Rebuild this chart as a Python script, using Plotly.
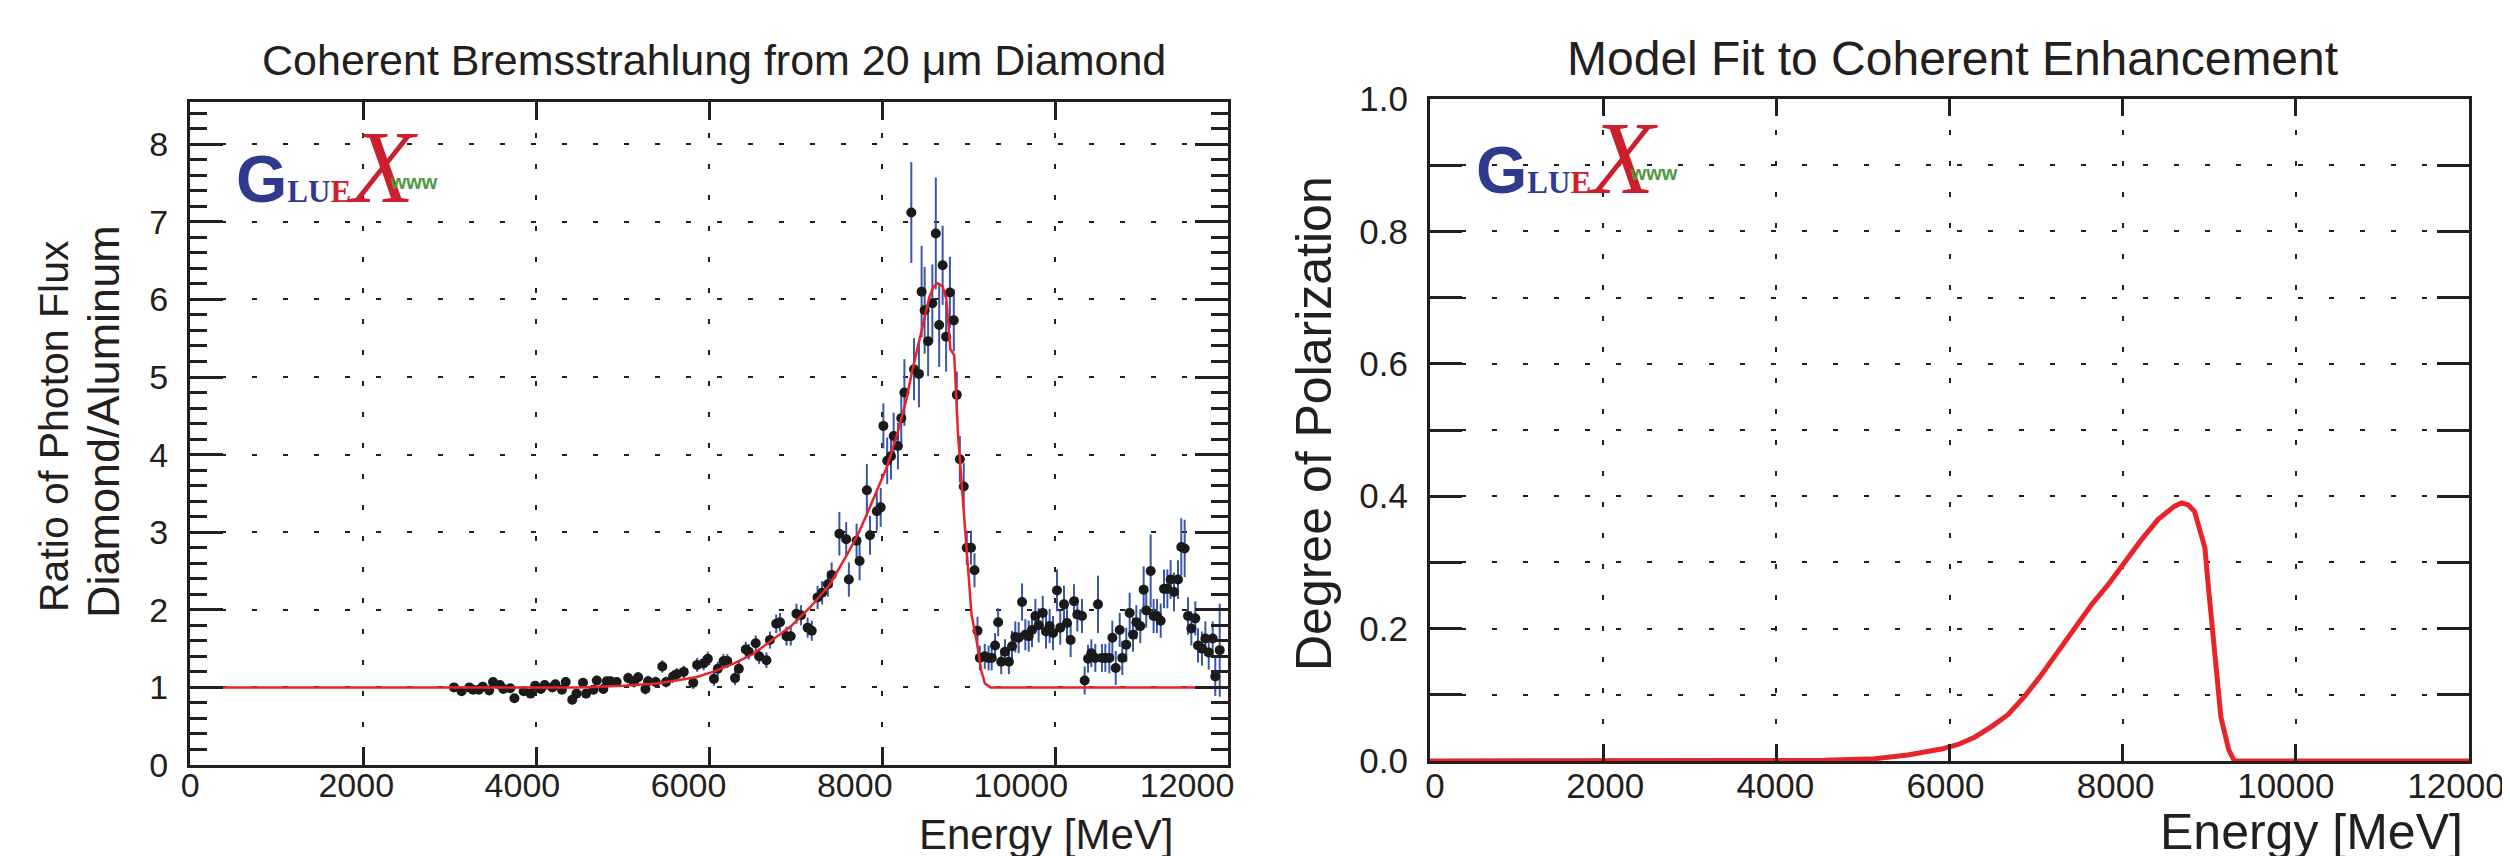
import plotly.graph_objects as go

W, H = 2510, 856

# ---------------- data ----------------
energy = [3052, 3140, 3229, 3273, 3339, 3384, 3459, 3503, 3583, 3623, 3703, 3751, 3857, 3937, 3990,
          4056, 4101, 4189, 4224, 4300, 4344, 4419, 4468, 4543, 4579, 4663, 4703, 4778, 4818, 4862,
          4933, 5066, 5132, 5181, 5265, 5296, 5384, 5460, 5504, 5584, 5628, 5708, 5818, 5863, 5938,
          5987, 6057, 6102, 6168, 6212, 6301, 6345, 6425, 6460, 6540, 6580, 6664, 6704, 6777, 6821,
          6896, 6945, 7011, 7064, 7140, 7188, 7255, 7308, 7374, 7418, 7507, 7586, 7617, 7706, 7741,
          7825, 7861, 7940, 7985, 8016, 8060, 8104, 8135, 8184, 8223, 8259, 8339, 8370, 8427, 8458,
          8493, 8533, 8582, 8622, 8661, 8701, 8741, 8785, 8830, 8865, 8900, 8945, 8980, 9029, 9069,
          9104, 9131, 9188, 9232, 9268, 9307, 9343, 9378, 9422, 9467, 9503, 9541, 9580, 9619, 9657,
          9696, 9734, 9773, 9811, 9858, 9896, 9938, 9977, 10023, 10061, 10104, 10139, 10181, 10220, 10258,
          10312, 10343, 10382, 10420, 10466, 10497, 10543, 10582, 10628, 10663, 10702, 10748, 10778, 10824, 10863,
          10902, 10940, 10986, 11025, 11055, 11106, 11140, 11179, 11222, 11260, 11299, 11337, 11376, 11422, 11460,
          11499, 11538, 11576, 11622, 11653, 11699, 11738, 11777, 11823, 11853, 11904]
ratio = [1.00, 0.95, 1.00, 0.97, 0.97, 1.01, 0.96, 1.07, 1.03, 0.98, 0.99, 0.86, 0.95, 0.92, 1.02,
         0.98, 1.03, 1.00, 1.04, 0.97, 1.07, 0.84, 0.92, 1.06, 0.92, 0.97, 1.09, 0.98, 1.08, 1.08,
         1.07, 1.12, 1.07, 1.13, 0.98, 1.08, 1.07, 1.27, 1.07, 1.14, 1.17, 1.20, 1.06, 1.29, 1.31,
         1.37, 1.11, 1.24, 1.34, 1.34, 1.12, 1.24, 1.49, 1.46, 1.57, 1.40, 1.35, 1.61, 1.82, 1.84,
         1.66, 1.66, 1.95, 1.93, 1.77, 1.73, 2.16, 2.22, 2.33, 2.45, 2.98, 2.91, 2.39, 2.89, 2.63,
         3.54, 2.96, 3.27, 3.32, 4.37, 3.92, 3.98, 4.24, 4.11, 4.47, 4.80, 7.12, 5.10, 5.04, 6.10,
         5.86, 5.46, 5.95, 6.85, 5.67, 6.44, 5.52, 6.09, 5.73, 4.77, 3.94, 3.59, 2.80, 2.80, 2.51,
         1.73, 1.38, 1.40, 1.38, 1.38, 1.54, 1.84, 1.33, 1.46, 1.33, 1.53, 1.65, 1.64, 2.10, 1.68,
         1.66, 1.74, 1.92, 1.80, 1.96, 1.72, 1.79, 1.70, 2.25, 1.77, 2.07, 1.83, 1.61, 2.11, 1.94,
         1.92, 1.09, 1.37, 1.44, 1.38, 2.07, 1.38, 1.38, 1.38, 1.64, 1.25, 1.74, 1.38, 1.55, 1.96,
         1.68, 1.84, 1.79, 2.26, 1.99, 2.50, 1.92, 1.92, 1.86, 2.27, 2.27, 2.39, 2.23, 2.39, 2.81,
         2.79, 1.92, 1.76, 1.89, 1.54, 1.50, 1.63, 1.45, 1.63, 1.14, 1.48]
ratio_err = [0.05, 0.05, 0.05, 0.05, 0.05, 0.05, 0.05, 0.05, 0.05, 0.05, 0.05, 0.05, 0.05, 0.05, 0.05,
             0.05, 0.05, 0.05, 0.05, 0.05, 0.06, 0.06, 0.06, 0.06, 0.06, 0.06, 0.06, 0.06, 0.06, 0.06,
             0.06, 0.07, 0.07, 0.07, 0.07, 0.07, 0.07, 0.08, 0.07, 0.08, 0.08, 0.08, 0.08, 0.09, 0.09,
             0.09, 0.09, 0.09, 0.09, 0.09, 0.09, 0.10, 0.10, 0.10, 0.10, 0.10, 0.10, 0.11, 0.12, 0.12,
             0.12, 0.12, 0.13, 0.13, 0.13, 0.13, 0.15, 0.15, 0.16, 0.16, 0.28, 0.22, 0.22, 0.22, 0.25,
             0.34, 0.25, 0.25, 0.25, 0.29, 0.30, 0.30, 0.30, 0.30, 0.32, 0.43, 0.65, 0.40, 0.43, 0.59,
             0.56, 0.45, 0.50, 0.72, 0.54, 0.51, 0.45, 0.46, 0.40, 0.30, 0.30, 0.30, 0.22, 0.22, 0.22,
             0.18, 0.16, 0.16, 0.16, 0.16, 0.16, 0.18, 0.16, 0.16, 0.16, 0.20, 0.20, 0.20, 0.24, 0.20,
             0.20, 0.22, 0.22, 0.22, 0.22, 0.22, 0.22, 0.22, 0.27, 0.22, 0.24, 0.22, 0.22, 0.22, 0.22,
             0.22, 0.18, 0.18, 0.18, 0.18, 0.37, 0.18, 0.18, 0.20, 0.22, 0.22, 0.22, 0.22, 0.22, 0.26,
             0.22, 0.22, 0.22, 0.30, 0.22, 0.47, 0.22, 0.22, 0.22, 0.25, 0.25, 0.25, 0.25, 0.25, 0.37,
             0.37, 0.24, 0.22, 0.22, 0.22, 0.22, 0.22, 0.22, 0.22, 0.25, 0.60]

fit_energy = [0, 4500, 5000, 5400, 5850, 6070, 6290, 6510, 6730, 6950, 7175, 7400, 7620, 7730,
              7840, 7950, 8060, 8170, 8280, 8350, 8410, 8480, 8545, 8590, 8635, 8700, 8745, 8790,
              8835, 8880, 8925, 8965, 9000, 9035, 9100, 9145, 9190, 9255, 12000]
fit_ratio = [1.00, 1.00, 1.02, 1.05, 1.13, 1.21, 1.31, 1.43, 1.61, 1.79, 2.04, 2.33, 2.76, 2.99,
             3.27, 3.55, 3.85, 4.24, 4.70, 5.08, 5.36, 5.69, 6.02, 6.15, 6.21, 6.17, 6.00, 5.36,
             5.28, 4.24, 3.57, 2.94, 2.40, 1.94, 1.56, 1.23, 1.05, 1.00, 1.00]

pol_energy = [0, 3200, 4560, 5140, 5520, 5905, 6100, 6290, 6485, 6675, 6870, 7060, 7255, 7445,
              7640, 7830, 8025, 8215, 8410, 8600, 8680, 8755, 8830, 8890, 8950, 8990, 9070, 9135,
              9225, 9290, 12000]
pol_value = [0.0, 0.0, 0.001, 0.0035, 0.009, 0.018, 0.025, 0.036, 0.052, 0.070, 0.098, 0.130, 0.165,
             0.198, 0.236, 0.266, 0.302, 0.334, 0.365, 0.385, 0.390, 0.387, 0.377, 0.352, 0.322,
             0.263, 0.156, 0.066, 0.017, 0.0, 0.0]

x_ticks = [0, 2000, 4000, 6000, 8000, 10000, 12000]
x_tick_text = ["0", "2000", "4000", "6000", "8000", "10000", "12000"]
y1_ticks = [0, 1, 2, 3, 4, 5, 6, 7, 8]
y1_tick_text = ["0", "1", "2", "3", "4", "5", "6", "7", "8"]
y2_ticks = [0.0, 0.2, 0.4, 0.6, 0.8, 1.0]
y2_tick_text = ["0.0", "0.2", "0.4", "0.6", "0.8", "1.0"]

# ---------------- styling ----------------
INK = "#231f20"
RED = "#e8242b"
BLUE_ERR = "#3a57a6"
FONT = "Liberation Sans"
DASH = "5px,26px"


def px(x):
    return x / W


def py(y):
    return 1 - y / H


fig = go.Figure()

fig.add_trace(go.Scatter(
    x=energy, y=ratio, mode="markers",
    marker=dict(size=10, color="#1a1a1a"),
    error_y=dict(type="data", array=ratio_err, color=BLUE_ERR, thickness=2, width=0),
    xaxis="x", yaxis="y", hoverinfo="skip"))
fig.add_trace(go.Scatter(
    x=fit_energy, y=fit_ratio, mode="lines",
    line=dict(color=RED, width=2.5), xaxis="x", yaxis="y", hoverinfo="skip"))
fig.add_trace(go.Scatter(
    x=pol_energy, y=pol_value, mode="lines",
    line=dict(color=RED, width=5), xaxis="x2", yaxis="y2", hoverinfo="skip"))
# empty traces that only carry the tick-label axes
fig.add_trace(go.Scatter(x=[0], y=[None], mode="markers", xaxis="x3", yaxis="y",
                         hoverinfo="skip", showlegend=False))
fig.add_trace(go.Scatter(x=[0], y=[None], mode="markers", xaxis="x4", yaxis="y2",
                         hoverinfo="skip", showlegend=False))

common_axis = dict(showline=True, linewidth=3, linecolor=INK, mirror="ticks",
                   ticks="inside", tickcolor=INK, tickwidth=2.5, zeroline=False,
                   showgrid=True, gridcolor=INK, gridwidth=2, automargin=False)
label_axis = dict(showgrid=False, showline=False, zeroline=False, ticks="", automargin=False,
                  side="bottom", tickvals=x_ticks, ticktext=x_tick_text)

fig.update_layout(
    template="none",
    width=W, height=H, margin=dict(l=0, r=0, t=0, b=0, pad=0), autosize=False,
    paper_bgcolor="white", plot_bgcolor="white", showlegend=False,
    font=dict(family=FONT, color=INK),
    xaxis=dict(domain=[px(182), px(1220)], anchor="y", range=[0, 12000],
               tickvals=x_ticks, showticklabels=False, ticklen=18,
               griddash=DASH, **common_axis),
    xaxis3=dict(overlaying="x", anchor="y", range=[-1, 12493],
                tickfont=dict(size=34, family=FONT, color=INK), ticklabelstandoff=-3,
                **label_axis),
    yaxis=dict(domain=[py(757), py(94)], anchor="x", range=[0, 8.544],
               tickvals=y1_ticks, ticktext=y1_tick_text, ticklen=33,
               tickfont=dict(size=34, family=FONT, color=INK), ticklabelstandoff=12,
               minor=dict(ticks="inside", ticklen=17, dtick=0.2, tickcolor=INK, tickwidth=2.5,
                          showgrid=False),
               griddash=DASH, **common_axis),
    xaxis2=dict(domain=[px(1422), px(2461)], anchor="y2", range=[0, 12000],
                tickvals=x_ticks, showticklabels=False, ticklen=17,
                griddash=DASH, **common_axis),
    xaxis4=dict(overlaying="x2", anchor="y2", range=[-58.8, 12153],
                tickfont=dict(size=35, family=FONT, color=INK), ticklabelstandoff=1,
                **label_axis),
    yaxis2=dict(domain=[py(753), py(91)], anchor="x2", range=[0, 1.0],
                tickvals=y2_ticks, ticktext=y2_tick_text, ticklen=32,
                tickfont=dict(size=35, family=FONT, color=INK), ticklabelstandoff=12,
                minor=dict(ticks="inside", ticklen=32, dtick=0.1, tickcolor=INK, tickwidth=2.5,
                           showgrid=True, gridcolor=INK, gridwidth=2, griddash=DASH),
                griddash=DASH, **common_axis),
)

ann = []


def text(t, x, y, size, angle=0, xanchor="center", color=INK, family=FONT):
    ann.append(dict(text=t, x=px(x), y=py(y), xref="paper", yref="paper",
                    xanchor=xanchor, yanchor="middle", showarrow=False, textangle=angle,
                    borderpad=0, font=dict(size=size, color=color, family=family)))


# titles
text("Coherent Bremsstrahlung from 20 μm Diamond", 706, 52, 43)
text("Model Fit to Coherent Enhancement", 1944, 51, 48)
# axis titles
text("Energy [MeV]", 1166, 826, 42, xanchor="right")
text("Energy [MeV]", 2456, 824, 50, xanchor="right")
text("Ratio of Photon Flux", 46, 418, 41, angle=-90)
text("Diamond/Aluminum", 95, 414, 45, angle=-90)
text("Degree of Polarization", 1306, 416, 50, angle=-90)

# GlueX logo as one line of styled text
LOGO = ('<span style="font-size:66px;font-weight:bold;font-family:Liberation Sans">G</span>'
        '<span style="font-size:31px;font-weight:bold;font-family:Liberation Sans Narrow">LU</span>'
        '<span style="font-size:31px;font-weight:bold;font-family:Liberation Sans Narrow;'
        'color:#d0202e">E</span>'
        '<i><span style="font-size:104px;font-family:Liberation Serif;color:#cc1f2d;'
        'letter-spacing:-24px">X</span></i>'
        '<sup><span style="font-size:20px;font-weight:bold;font-family:Liberation Sans;'
        'color:#4b9a3c;letter-spacing:0px">www</span></sup>')


def logo(dx, dy):
    ann.append(dict(text=LOGO, x=px(227 + dx), y=py(158 + dy), xref="paper", yref="paper",
                    xanchor="left", yanchor="middle", showarrow=False, borderpad=0,
                    font=dict(size=31, color="#2e3a8e", family="Liberation Sans")))


logo(0, 0)
logo(1240, -9)

fig.update_layout(annotations=ann)
fig.write_html("out.html")
